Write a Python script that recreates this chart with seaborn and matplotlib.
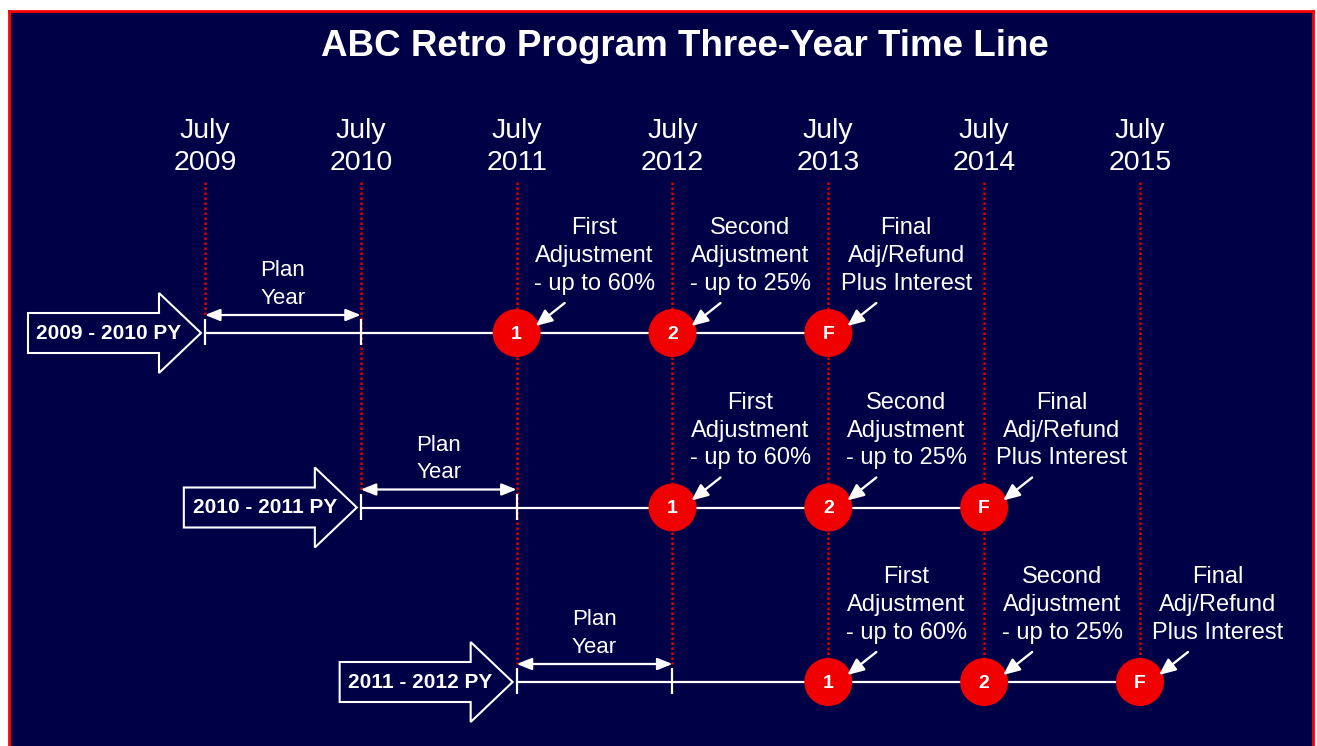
import matplotlib.pyplot as plt
import pandas as pd
import seaborn as sns
from matplotlib.patches import FancyArrow

# values
years = [2009, 2010, 2011, 2012, 2013, 2014, 2015]
plan_starts = [2009, 2010, 2011]
plan_names = ["2009 - 2010 PY", "2010 - 2011 PY", "2011 - 2012 PY"]
event_marks = ["1", "2", "F"]
event_lags = [2, 3, 4]  # years after the plan year starts
event_texts = ["First\nAdjustment\n- up to 60%",
               "Second\nAdjustment\n- up to 25%",
               "Final\nAdj/Refund\nPlus Interest"]
title = "ABC Retro Program Three-Year Time Line"

NAVY = "#000046"
RED = "#f00000"
DOT_RED = "#d80000"
W, H = 1317, 746
PX = 155.83          # pixels per year on the x axis
row_y = [333, 507.5, 682]   # y runs in pixels from the top

sns.set_theme(style="white")
plt.rcParams["font.family"] = ["Liberation Sans", "DejaVu Sans"]

fig = plt.figure(figsize=(W / 100, H / 100), dpi=100, facecolor="white")
ax = fig.add_axes([9 / W, 0, (1313 - 9) / W, (H - 11) / H])
ax.set_facecolor(NAVY)

# circles for the adjustments, drawn by seaborn
rows = []
for k, start in enumerate(plan_starts):
    for lag, mark in zip(event_lags, event_marks):
        rows.append({"year": start + lag, "y": row_y[k], "mark": mark})
events = pd.DataFrame(rows)
sns.scatterplot(data=events, x="year", y="y", s=1194, color=RED,
                edgecolor="none", linewidth=0, legend=False, zorder=5, ax=ax)

ax.set_xlim(2009 - (205 - 9) / PX, 2009 + (1313 - 205) / PX)
ax.set_ylim(H, 11)
ax.set_xticks([])
ax.set_yticks([])
ax.set_xlabel("")
ax.set_ylabel("")
for side in ["left", "top", "right"]:
    ax.spines[side].set_color("#ff0000")
    ax.spines[side].set_linewidth(2)
ax.spines["bottom"].set_visible(False)

fig.text(684.5 / W, 1 - 46 / H, title, color="white", fontsize=26.5,
         fontweight="bold", ha="center", va="center")

# year headings and dotted guide lines
for i, yr in enumerate(years):
    ax.text(yr, 147, f"July\n{yr}", color="white", fontsize=20.5,
            ha="center", va="center", linespacing=1.33)
    ax.vlines(yr, 182, row_y[min(i, 2)] - 18, colors=DOT_RED,
              linestyles=(0, (1, 1)), lw=1.8, zorder=1)

head = "-|>,head_length=0.5,head_width=0.22"
for k, (start, name) in enumerate(zip(plan_starts, plan_names)):
    y = row_y[k]
    ax.hlines(y, start, start + event_lags[-1], colors="white", lw=1.6, zorder=2)
    ax.vlines([start, start + 1], y - 14, y + 12, colors="white", lw=1.6, zorder=2)
    ax.annotate("", xy=(start + 1, y - 18), xytext=(start, y - 18),
                arrowprops=dict(arrowstyle="<|-|>,head_length=0.5,head_width=0.2",
                                color="white", lw=1.6, mutation_scale=18,
                                shrinkA=0, shrinkB=0), zorder=3)
    ax.text(start + 0.5, y - 48.5, "Plan\nYear", color="white", fontsize=16,
            ha="center", va="center", linespacing=1.42)

    tip = start - 4 / PX
    ax.add_patch(FancyArrow(tip - 173 / PX, y, 173 / PX, 0, width=40,
                            head_width=80, head_length=42 / PX,
                            length_includes_head=True, fc=NAVY, ec="white",
                            lw=1.5, zorder=3))
    ax.text(tip - 92 / PX, y, name, color="white", fontsize=15,
            fontweight="bold", ha="center", va="center", zorder=4)

    for lag, mark, txt in zip(event_lags, event_marks, event_texts):
        x = start + lag
        ax.text(x, y + 1, mark, color="white", fontsize=14, fontweight="bold",
                ha="center", va="center", zorder=6)
        ax.annotate("", xy=(x + 19 / PX, y - 7), xytext=(x + 48 / PX, y - 30),
                    arrowprops=dict(arrowstyle=head, color="white", lw=1.7,
                                    mutation_scale=20, shrinkA=0, shrinkB=0),
                    zorder=7)
        ax.text(x + 0.5, y - 77, txt, color="white", fontsize=17,
                ha="center", va="center", linespacing=1.35)

fig.savefig("out.png", dpi=100, facecolor="white")
